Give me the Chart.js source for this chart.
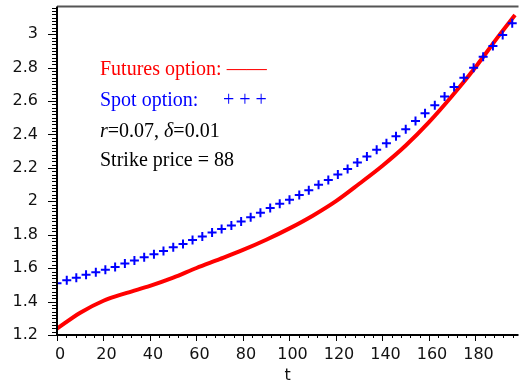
<!DOCTYPE html>
<html>
<head>
<meta charset="utf-8">
<script src="https://cdn.jsdelivr.net/npm/chart.js@4"></script>
<style>
  html, body { margin: 0; padding: 0; background: #fff; }
  #wrap { width: 525px; height: 387px; }
</style>
</head>
<body>
<div id="wrap"><canvas id="c" width="525" height="387"></canvas></div>
<script>
// Futures option price (solid red curve) against time t
const futuresT = [0, 10, 20, 30, 40, 50, 60, 70, 80, 90, 100, 110, 120, 130, 140, 150, 160, 170, 180, 190, 197];
const futuresValues = [1.238, 1.333, 1.405, 1.452, 1.494, 1.543, 1.601, 1.654, 1.709, 1.770, 1.838, 1.914, 2.001, 2.105, 2.213, 2.334, 2.474, 2.632, 2.803, 2.990, 3.115];

// Spot option price (blue crosses) against time t
const spotT = [0, 4.2, 8.3, 12.5, 16.7, 20.8, 25, 29.2, 33.3, 37.5, 41.7, 45.8, 50, 54.2, 58.3, 62.5,
  66.7, 70.8, 75, 79.2, 83.3, 87.5, 91.7, 95.8, 100, 104.2, 108.3, 112.5, 116.7, 120.8, 125, 129.2,
  133.3, 137.5, 141.7, 145.8, 150, 154.2, 158.3, 162.5, 166.7, 170.8, 175, 179.2, 183.3, 187.5, 191.7, 195.8];
const spotValues = [1.510, 1.527, 1.543, 1.560, 1.576, 1.591, 1.607, 1.628, 1.646, 1.665, 1.684, 1.702, 1.725, 1.745, 1.768, 1.790,
  1.814, 1.834, 1.856, 1.879, 1.905, 1.932, 1.960, 1.986, 2.010, 2.038, 2.066, 2.099, 2.127, 2.160, 2.193, 2.232,
  2.269, 2.308, 2.348, 2.390, 2.432, 2.480, 2.527, 2.575, 2.628, 2.684, 2.739, 2.800, 2.866, 2.929, 2.995, 3.066];

// Axis ticks
const xTicks = [0, 20, 40, 60, 80, 100, 120, 140, 160, 180];
const yTicks = [1.2, 1.4, 1.6, 1.8, 2, 2.2, 2.4, 2.6, 2.8, 3];

const tickFont = { family: 'DejaVu Sans', size: 16 };
const serif = 'Liberation Serif, Times New Roman, serif';

// Axes drawn in the classic style: black left/bottom lines, major and minor ticks, grey top frame
const axesPlugin = {
  id: 'axesPlugin',
  afterDatasetsDraw(chart) {
    const { ctx, chartArea: a, scales: { x, y } } = chart;
    ctx.save();
    // top frame
    ctx.strokeStyle = '#555';
    ctx.lineWidth = 2;
    ctx.beginPath();
    ctx.moveTo(a.left, a.top);
    ctx.lineTo(a.right, a.top);
    ctx.stroke();
    // axis lines
    ctx.strokeStyle = '#000';
    ctx.lineWidth = 2;
    ctx.beginPath();
    ctx.moveTo(a.left, a.top);
    ctx.lineTo(a.left, a.bottom);
    ctx.lineTo(a.right, a.bottom);
    ctx.stroke();
    ctx.lineWidth = 1;
    // y ticks: minor every 0.02, major every 0.2
    for (let k = 0; ; k++) {
      const v = 1.2 + k * 0.02;
      if (v > y.max) break;
      const py = Math.round(y.getPixelForValue(v)) + 0.5;
      const len = (k % 10 === 0) ? 9 : 5;
      ctx.beginPath();
      ctx.moveTo(a.left - len, py);
      ctx.lineTo(a.left, py);
      ctx.stroke();
    }
    // x ticks: minor every 4, major every 20
    for (let k = 0; ; k++) {
      const v = k * 4;
      if (v > x.max) break;
      const px = Math.round(x.getPixelForValue(v)) + 0.5;
      const len = (k % 5 === 0) ? 6 : 3;
      ctx.beginPath();
      ctx.moveTo(px, a.bottom);
      ctx.lineTo(px, a.bottom + len);
      ctx.stroke();
    }
    ctx.restore();
  }
};

// Legend-like text block inside the plot
const notesPlugin = {
  id: 'notesPlugin',
  afterDraw(chart) {
    const { ctx, chartArea: a } = chart;
    const x0 = a.left + 43;
    ctx.save();
    ctx.textBaseline = 'alphabetic';
    ctx.textAlign = 'left';
    ctx.font = '20px ' + serif;
    ctx.fillStyle = '#ff0000';
    ctx.fillText('Futures option: \u2014\u2014', x0, a.top + 68);
    ctx.fillStyle = '#0000ff';
    ctx.fillText('Spot option:', x0, a.top + 99);
    ctx.fillText('+ + +', x0 + 123, a.top + 99);
    ctx.fillStyle = '#000';
    let cx = x0;
    const parts = [['italic ', 'r'], ['', '=0.07, '], ['italic ', '\u03B4'], ['', '=0.01']];
    for (const [style, s] of parts) {
      ctx.font = style + '20px ' + serif;
      ctx.fillText(s, cx, a.top + 130);
      cx += ctx.measureText(s).width;
    }
    ctx.font = '20px ' + serif;
    ctx.fillText('Strike price = 88', x0, a.top + 159);
    ctx.restore();
  }
};

new Chart(document.getElementById('c'), {
  type: 'scatter',
  data: {
    datasets: [
      {
        label: 'Futures option',
        data: futuresT.map((t, i) => ({ x: t, y: futuresValues[i] })),
        showLine: true,
        borderColor: '#ff0000',
        backgroundColor: '#ff0000',
        borderWidth: 4,
        pointRadius: 0,
        cubicInterpolationMode: 'monotone',
        order: 1
      },
      {
        label: 'Spot option',
        data: spotT.map((t, i) => ({ x: t, y: spotValues[i] })),
        showLine: false,
        pointStyle: 'cross',
        pointRadius: 4.5,
        pointBorderWidth: 2,
        borderColor: '#0000ff',
        backgroundColor: '#0000ff',
        order: 0
      }
    ]
  },
  options: {
    responsive: false,
    animation: false,
    devicePixelRatio: 1,
    layout: { padding: { top: 4, right: 0, left: 0, bottom: 0 } },
    plugins: { legend: { display: false }, tooltip: { enabled: false } },
    scales: {
      x: {
        type: 'linear',
        min: 0,
        max: 198.5,
        grid: { display: false },
        border: { display: false },
        afterBuildTicks: (s) => { s.ticks = xTicks.map(v => ({ value: v })); },
        afterFit: (s) => { s.height = 52; s.paddingLeft = 0; s.paddingRight = 0; },
        ticks: {
          font: tickFont,
          color: '#111',
          padding: 2,
          labelOffset: 3,
          maxRotation: 0,
          autoSkip: false,
          callback: (v) => String(v)
        },
        title: {
          display: true,
          text: 't',
          font: tickFont,
          color: '#111',
          padding: { top: 0, bottom: 2 }
        }
      },
      y: {
        type: 'linear',
        min: 1.2,
        max: 3.166,
        grid: { display: false },
        border: { display: false },
        afterBuildTicks: (s) => { s.ticks = yTicks.map(v => ({ value: v })); },
        afterFit: (s) => { s.width = 57; s.paddingTop = 0; s.paddingBottom = 0; },
        ticks: {
          font: tickFont,
          color: '#111',
          padding: 11,
          autoSkip: false,
          callback: (v) => String(+Number(v).toFixed(1))
        }
      }
    }
  },
  plugins: [axesPlugin, notesPlugin]
});
</script>
</body>
</html>
